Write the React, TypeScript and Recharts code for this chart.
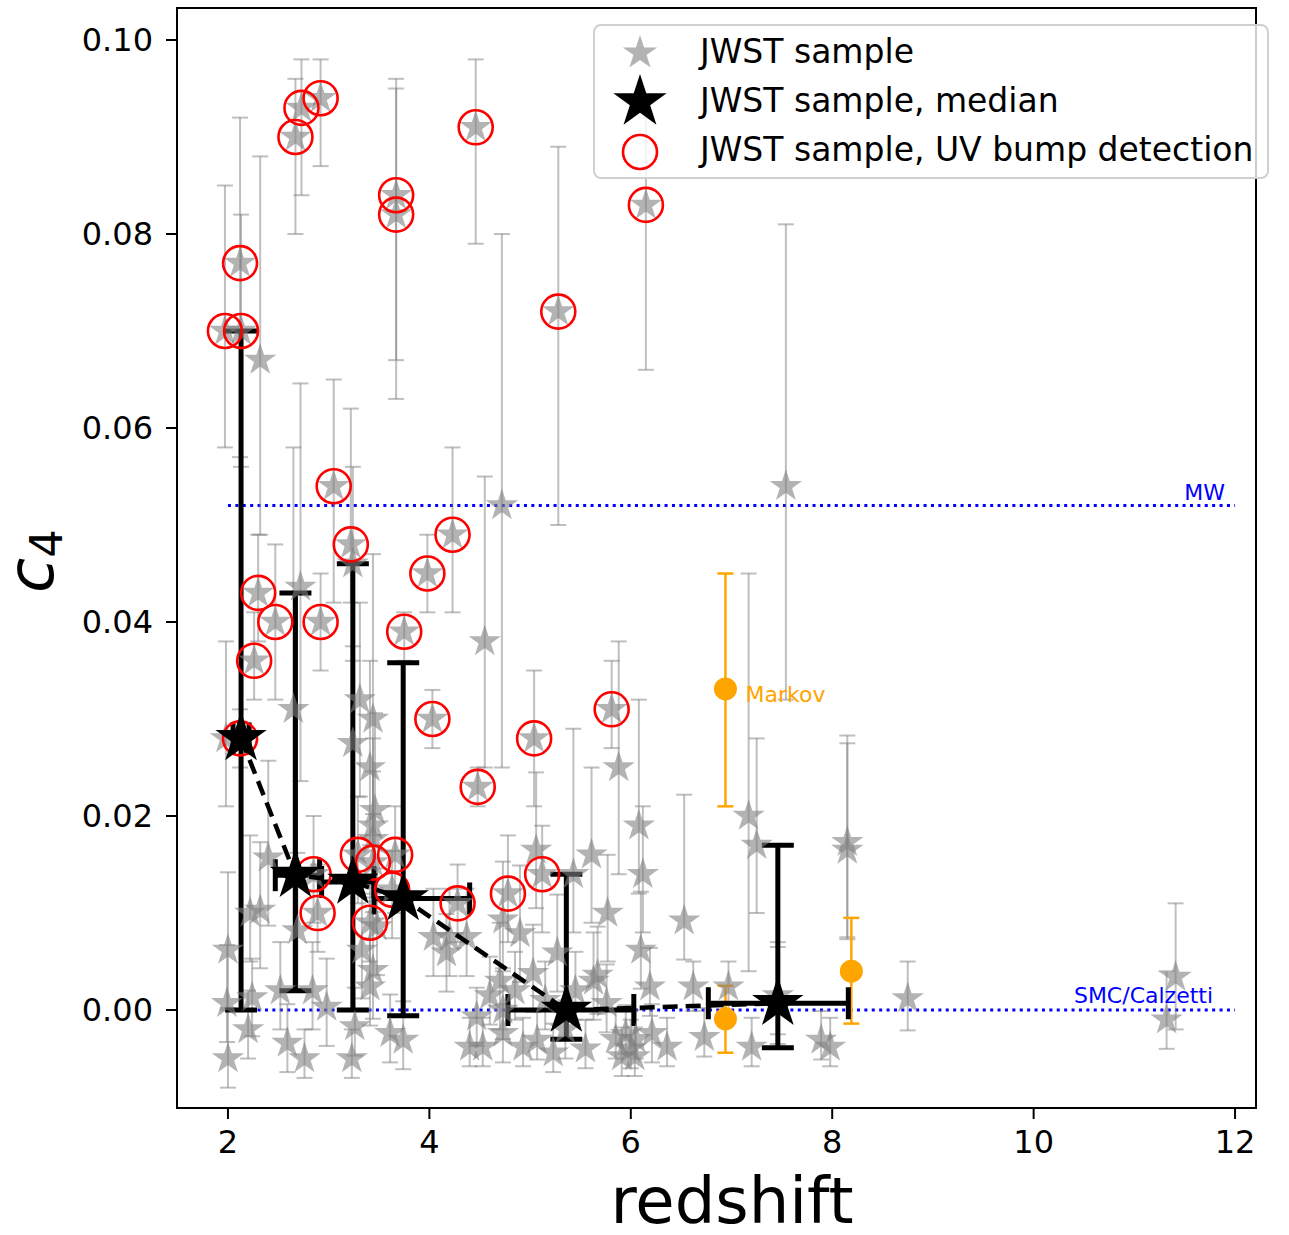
import React from 'react';
import {
  ScatterChart,
  Scatter,
  XAxis,
  YAxis,
  ErrorBar,
  ReferenceLine,
  ReferenceDot,
  ReferenceArea,
  Legend,
} from 'recharts';

const FONT = '"DejaVu Sans", "Liberation Sans", sans-serif';

// JWST sample, galaxies with a UV bump detection (circled in red)
const bumpZ = [
  1.97, 2.13, 2.12, 2.67, 2.73, 2.92, 3.67, 3.67, 4.46, 6.15, 5.28, 3.05,
  3.22, 2.30, 2.47, 2.92, 2.26, 3.75, 3.98, 4.23, 4.03, 5.04, 5.81, 4.48,
  2.12, 2.85, 2.89, 3.29, 3.44, 3.66, 3.63, 3.41, 4.28, 4.78, 5.12,
];
const bumpC4 = [
  0.070, 0.070, 0.077, 0.090, 0.093, 0.094, 0.084, 0.082, 0.091, 0.083, 0.072, 0.054,
  0.048, 0.043, 0.040, 0.040, 0.036, 0.039, 0.045, 0.049, 0.030, 0.028, 0.031, 0.023,
  0.028, 0.014, 0.010, 0.016, 0.0152, 0.016, 0.0124, 0.009, 0.011, 0.012, 0.014,
];
const bumpLo = [
  0.012, 0.014, 0.020, 0.010, 0.009, 0.007, 0.017, 0.019, 0.012, 0.017, 0.022, 0.012,
  0.006, 0.005, 0.008, 0.005, 0.004, 0.003, 0.004, 0.008, 0.003, 0.007, 0.004, 0.002,
  0.003, 0.005, 0.004, 0.005, 0.004, 0.006, 0.005, 0.004, 0.004, 0.005, 0.006,
];
const bumpHi = [
  0.015, 0.012, 0.015, 0.006, 0.005, 0.004, 0.012, 0.013, 0.007, 0.009, 0.017, 0.011,
  0.014, 0.006, 0.008, 0.005, 0.005, 0.002, 0.004, 0.009, 0.003, 0.007, 0.005, 0.002,
  0.003, 0.006, 0.005, 0.006, 0.005, 0.005, 0.004, 0.005, 0.004, 0.006, 0.005,
];

// JWST sample, the rest
const otherZ = [
  2.32, 4.72, 7.54, 4.55, 2.65, 2.72, 3.31, 3.44, 3.24, 3.24, 1.98, 2.00,
  1.99, 2.00, 2.22, 2.32, 2.24, 2.20, 2.40, 2.69, 2.52, 2.84, 2.59, 2.76,
  3.23, 3.26, 2.98, 3.41, 3.46, 3.44, 3.33, 3.44, 3.41, 3.48, 3.61, 3.74,
  4.04, 4.20, 4.37, 4.17, 4.70, 4.73, 4.90, 5.06, 5.27, 5.03, 4.40, 4.53,
  4.73, 4.93, 5.07, 5.23, 4.73, 4.47, 5.88, 6.08, 5.61, 6.12, 5.77, 6.53,
  6.10, 5.43, 5.67, 6.62, 6.97, 7.17, 7.25, 8.15, 8.15, 8.75, 6.73, 7.20,
  7.89, 7.98, 5.55, 5.91, 6.04, 6.36, 6.21, 5.76, 5.63, 6.19, 7.46, 7.46,
  11.41, 11.32, 5.45, 5.35, 5.85, 6.00, 5.95, 6.05, 5.15, 4.85, 4.60, 3.44,
];
const otherC4 = [
  0.067, 0.052, 0.054, 0.038, 0.031, 0.0436, 0.032, 0.030, 0.0275, 0.046, 0.028, 0.0062,
  0.0007, -0.005, 0.010, 0.0103, 0.0013, -0.002, 0.0157, 0.0082, 0.002, 0.002, -0.0034, -0.005,
  -0.005, -0.0017, 0.0003, 0.025, 0.0206, 0.019, 0.0062, 0.0041, 0.0024, 0.0086, -0.0024, -0.0031,
  0.0075, 0.0075, 0.0075, 0.0059, 0.003, 0.0093, 0.0079, 0.0165, 0.0059, 0.0038, -0.0038, -0.0038,
  -0.0024, -0.0038, -0.0031, -0.0044, 0.0, -0.0007, 0.025, 0.019, 0.016, 0.014, 0.010, 0.0092,
  0.0062, 0.014, 0.0036, 0.0024, 0.0024, 0.020, 0.017, 0.0173, 0.0165, 0.0012, -0.0028, -0.0038,
  -0.0031, -0.0038, -0.004, -0.0048, -0.0048, -0.0038, -0.0024, 0.0007, 0.003, 0.0024, 0.0015, 0.0005,
  0.0034, -0.001, 0.002, -0.002, -0.003, -0.004, -0.0025, -0.003, 0.001, 0.002, 0.0015, 0.0176,
];
const otherLo = [
  0.018, 0.027, 0.022, 0.013, 0.029, 0.020, 0.010, 0.012, 0.015, 0.010, 0.007, 0.006,
  0.004, 0.003, 0.005, 0.006, 0.004, 0.003, 0.007, 0.006, 0.004, 0.004, 0.003, 0.002,
  0.002, 0.003, 0.004, 0.008, 0.008, 0.007, 0.005, 0.005, 0.004, 0.005, 0.003, 0.003,
  0.004, 0.004, 0.004, 0.004, 0.005, 0.005, 0.005, 0.006, 0.004, 0.004, 0.002, 0.002,
  0.003, 0.002, 0.002, 0.002, 0.003, 0.003, 0.011, 0.007, 0.007, 0.006, 0.005, 0.004,
  0.004, 0.006, 0.004, 0.0025, 0.003, 0.016, 0.007, 0.010, 0.009, 0.0033, 0.002, 0.002,
  0.002, 0.002, 0.002, 0.002, 0.002, 0.002, 0.003, 0.003, 0.004, 0.003, 0.004, 0.004,
  0.0054, 0.003, 0.003, 0.003, 0.002, 0.002, 0.002, 0.002, 0.003, 0.003, 0.003, 0.006,
];
const otherHi = [
  0.021, 0.028, 0.027, 0.017, 0.027, 0.021, 0.010, 0.017, 0.010, 0.010, 0.010, 0.008,
  0.006, 0.005, 0.008, 0.007, 0.004, 0.004, 0.010, 0.008, 0.005, 0.005, 0.004, 0.003,
  0.003, 0.004, 0.005, 0.011, 0.010, 0.009, 0.007, 0.006, 0.005, 0.006, 0.004, 0.004,
  0.005, 0.005, 0.005, 0.004, 0.006, 0.006, 0.007, 0.008, 0.006, 0.005, 0.003, 0.003,
  0.003, 0.003, 0.003, 0.003, 0.004, 0.003, 0.013, 0.013, 0.009, 0.007, 0.006, 0.013,
  0.006, 0.015, 0.005, 0.0026, 0.0026, 0.025, 0.011, 0.011, 0.011, 0.0038, 0.003, 0.003,
  0.003, 0.003, 0.003, 0.003, 0.003, 0.003, 0.003, 0.004, 0.005, 0.004, 0.0055, 0.006,
  0.0076, 0.005, 0.004, 0.003, 0.003, 0.003, 0.003, 0.003, 0.004, 0.004, 0.004, 0.007,
];

// binned medians
const medZ = [2.13, 2.67, 3.24, 3.74, 5.36, 7.46];
const medC4 = [0.028, 0.0139, 0.0132, 0.0115, 0.0, 0.0007];
const medZLo = [0.08, 0.2, 0.31, 0.29, 0.58, 0.69];
const medZHi = [0.08, 0.24, 0.21, 0.66, 0.67, 0.7];
const medC4Lo = [0.028, 0.0119, 0.0132, 0.0121, 0.003, 0.0046];
const medC4Hi = [0.042, 0.0291, 0.0328, 0.0243, 0.014, 0.0163];

// Markov et al. points
const markovZ = [6.94, 6.94, 8.19];
const markovC4 = [0.0331, -0.0009, 0.004];
const markovLo = [0.0121, 0.0035, 0.0054];
const markovHi = [0.0119, 0.0034, 0.0055];

const MW_C4 = 0.052;
const SMC_C4 = 0.0;

const xTicks = [2, 4, 6, 8, 10, 12];
const yTicks = [0, 0.02, 0.04, 0.06, 0.08, 0.1];

const bumpData = bumpZ.map((z, i) => ({ z, c4: bumpC4[i], cErr: [bumpLo[i], bumpHi[i]] }));
const jwstData = [
  ...otherZ.map((z, i) => ({ z, c4: otherC4[i], cErr: [otherLo[i], otherHi[i]] })),
  ...bumpData,
];
const medianData = medZ.map((z, i) => ({
  z,
  c4: medC4[i],
  zErr: [medZLo[i], medZHi[i]],
  cErr: [medC4Lo[i], medC4Hi[i]],
}));
const markovData = markovZ.map((z, i) => ({ z, c4: markovC4[i], cErr: [markovLo[i], markovHi[i]] }));

// matplotlib-like '*' marker
function starPath(cx: number, cy: number, r: number) {
  const inner = r * 0.381966;
  let d = '';
  for (let i = 0; i < 10; i++) {
    const rad = i % 2 === 0 ? r : inner;
    const a = -Math.PI / 2 + (i * Math.PI) / 5;
    d += (i === 0 ? 'M' : 'L') + (cx + rad * Math.cos(a)).toFixed(2) + ',' + (cy + rad * Math.sin(a)).toFixed(2);
  }
  return d + 'Z';
}

const GrayStar = (props: any) => (
  <path d={starPath(props.cx, props.cy, 17)} fill="#808080" fillOpacity={0.6} stroke="none" />
);
const BlackStar = (props: any) => <path d={starPath(props.cx, props.cy, 27)} fill="#000" />;
const RedRing = (props: any) => (
  <circle cx={props.cx} cy={props.cy} r={17} fill="none" stroke="#ff0000" strokeWidth={2.6} />
);
const OrangeDot = (props: any) => <circle cx={props.cx} cy={props.cy} r={11.5} fill="#ffa500" />;

const renderLegend = () => (
  <svg width={677} height={156}>
    <rect x={1} y={1} width={674} height={153} rx={7} fill="#fff" fillOpacity={0.8} stroke="#d0d0d0" strokeWidth={2} />
    <path d={starPath(47, 29, 18)} fill="#808080" fillOpacity={0.6} />
    <path d={starPath(47, 78, 28)} fill="#000" />
    <circle cx={47} cy={128} r={17} fill="none" stroke="#ff0000" strokeWidth={2.6} />
    <g fontFamily={FONT} fontSize={33} fill="#000">
      <text x={107} y={39}>JWST sample</text>
      <text x={107} y={88}>JWST sample, median</text>
      <text x={107} y={137}>JWST sample, UV bump detection</text>
    </g>
  </svg>
);

export default function App() {
  return (
    <div style={{ position: 'absolute', left: 0, top: 0, fontFamily: FONT, background: '#fff' }}>
      <ScatterChart width={1289} height={1235} margin={{ top: 8, right: 33, bottom: 0, left: 0 }}>
        <XAxis
          type="number"
          dataKey="z"
          domain={[1.494, 12.208]}
          allowDataOverflow
          ticks={xTicks}
          tickSize={11}
          tickMargin={11}
          height={127}
          stroke="#000"
          strokeWidth={2}
          tick={{ fontSize: 32, fill: '#000', fontFamily: FONT }}
          label={() => (
            <text x={732} y={1223} textAnchor="middle" fontSize={64} fontFamily={FONT} fill="#000">
              redshift
            </text>
          )}
        />
        <YAxis
          type="number"
          dataKey="c4"
          domain={[-0.0101, 0.1033]}
          allowDataOverflow
          ticks={yTicks}
          tickFormatter={(v: number) => v.toFixed(2)}
          tickSize={11}
          tickMargin={13}
          width={177}
          stroke="#000"
          strokeWidth={2}
          tick={{ fontSize: 32, fill: '#000', fontFamily: FONT }}
          label={() => (
            <text x={53} y={561} transform="rotate(-90 53 561)" textAnchor="middle" fontFamily={FONT} fill="#000">
              <tspan fontStyle="italic" fontSize={64}>c</tspan>
              <tspan fontSize={45} dy={9}>4</tspan>
            </text>
          )}
        />
        <ReferenceArea
          x1={1.494}
          x2={12.208}
          y1={-0.0101}
          y2={0.1033}
          fill="none"
          stroke="#000"
          strokeWidth={2}
          ifOverflow="visible"
        />
        <ReferenceLine
          segment={[{ x: 2, y: MW_C4 }, { x: 12, y: MW_C4 }]}
          stroke="#0000ff"
          strokeWidth={3}
          strokeDasharray="3 4.4"
        />
        <ReferenceLine
          segment={[{ x: 2, y: SMC_C4 }, { x: 12, y: SMC_C4 }]}
          stroke="#0000ff"
          strokeWidth={3}
          strokeDasharray="3 4.4"
        />
        <Scatter name="JWST sample" data={jwstData} shape={GrayStar} isAnimationActive={false}>
          <ErrorBar dataKey="cErr" direction="y" width={8} stroke="#808080" strokeOpacity={0.5} strokeWidth={2} />
        </Scatter>
        <Scatter name="JWST sample, UV bump detection" data={bumpData} shape={RedRing} isAnimationActive={false} />
        <Scatter name="Markov" data={markovData} shape={OrangeDot} isAnimationActive={false}>
          <ErrorBar dataKey="cErr" direction="y" width={8} stroke="#ffa500" strokeWidth={2.5} />
        </Scatter>
        <Scatter
          name="JWST sample, median"
          data={medianData}
          shape={BlackStar}
          line={{ stroke: '#000', strokeWidth: 4.5, strokeDasharray: '15 8' }}
          lineType="joint"
          isAnimationActive={false}
        >
          <ErrorBar dataKey="cErr" direction="y" width={16} stroke="#000" strokeWidth={5} />
          <ErrorBar dataKey="zErr" direction="x" width={16} stroke="#000" strokeWidth={5} />
        </Scatter>
        <ReferenceDot
          x={12}
          y={MW_C4}
          r={0}
          fill="none"
          stroke="none"
          label={(p: any) => (
            <text x={p.viewBox.x - 10} y={p.viewBox.y - 6} textAnchor="end" fontSize={22} fontFamily={FONT} fill="#0000ff">
              MW
            </text>
          )}
        />
        <ReferenceDot
          x={12}
          y={SMC_C4}
          r={0}
          fill="none"
          stroke="none"
          label={(p: any) => (
            <text x={p.viewBox.x - 22} y={p.viewBox.y - 7} textAnchor="end" fontSize={22} fontFamily={FONT} fill="#0000ff">
              SMC/Calzetti
            </text>
          )}
        />
        <ReferenceDot
          x={markovZ[0]}
          y={markovC4[0]}
          r={0}
          fill="none"
          stroke="none"
          label={(p: any) => (
            <text x={p.viewBox.x + 20} y={p.viewBox.y + 13} textAnchor="start" fontSize={22} fontFamily={FONT} fill="#ffa500">
              Markov
            </text>
          )}
        />
        <Legend
          layout="vertical"
          align="center"
          verticalAlign="middle"
          wrapperStyle={{ left: 593, top: 24, width: 677, height: 156 }}
          content={renderLegend}
        />
      </ScatterChart>
    </div>
  );
}
